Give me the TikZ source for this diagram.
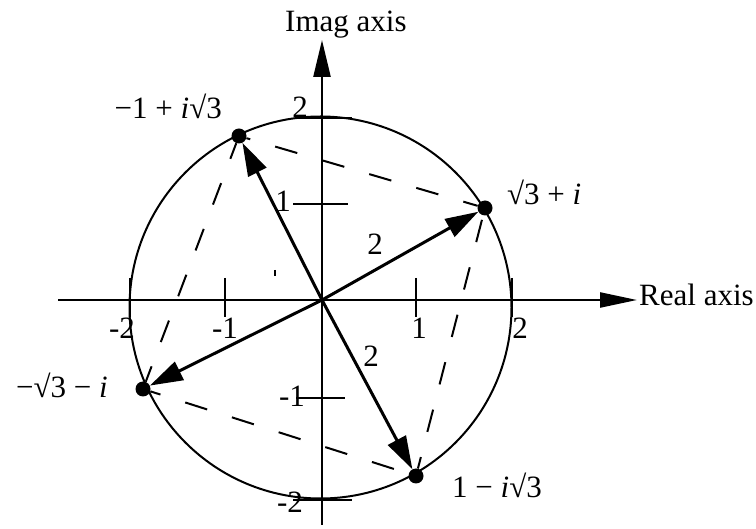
\documentclass[tikz,border=0pt]{standalone}
\usepackage{fontspec}
\setmainfont{Liberation Serif}
\usetikzlibrary{arrows.meta}
\begin{document}
\begin{tikzpicture}[x=1pt,y=-1pt,
  lbl/.style={font=\fontsize{31}{36}\selectfont, inner sep=0pt},
  axisline/.style={line width=2.4pt},
  vec/.style={line width=3pt,-{Triangle[length=33pt,width=20pt]}},
  dot/.style={circle,fill,inner sep=0pt,minimum size=15pt},
  dsh/.style={line width=2pt,dash pattern=on 23pt off 26pt},
  tickmark/.style={line width=2.4pt}]
\useasboundingbox (0,0) rectangle (756,529);
% circle
\draw[line width=2pt] (320.5,307.5) circle[radius=191pt];
% axes
\coordinate (xl) at (58,300);
\coordinate (xr) at (637,300);
\coordinate (yb) at (322,525);
\coordinate (yt) at (322,40);
\coordinate (o) at (322,300);
\draw[axisline,-{Triangle[length=37pt,width=15pt]}] (xl) -- (xr);
\draw[axisline,-{Triangle[length=37pt,width=17pt]}] (yb) -- (yt);
% real ticks
\foreach \x/\n in {130/m2,225/m1,416/p1,512/p2}{
  \coordinate (rt\n a) at (\x,278);
  \coordinate (rt\n b) at (\x,317);
  \draw[tickmark] (rt\n a) -- (rt\n b);
}
% imag ticks
\coordinate (it1a) at (293,204); \coordinate (it1b) at (348,204);
\coordinate (it2a) at (298,118); \coordinate (it2b) at (352,118);
\coordinate (itm1a) at (296,398); \coordinate (itm1b) at (345,398);
\coordinate (itm2a) at (293,500); \coordinate (itm2b) at (352,500);
\draw[tickmark] (it1a) -- (it1b);
\draw[tickmark] (it2a) -- (it2b);
\draw[tickmark] (itm1a) -- (itm1b);
\draw[tickmark] (itm2a) -- (itm2b);
% stray mark
\coordinate (sa) at (275,270); \coordinate (sb) at (275,276);
\draw[line width=2pt] (sa) -- (sb);
% points
\node[dot] (p1) at (485,208) {};
\node[dot] (p2) at (239,136) {};
\node[dot] (p3) at (143,389) {};
\node[dot] (p4) at (416,476) {};
% dashed square
\draw[dsh,dash phase=19pt] (p2) -- (p1);
\draw[dsh,dash phase=44.5pt] (p1) -- (p4);
\draw[dsh,dash phase=33.5pt] (p4) -- (p3);
\draw[dsh,dash phase=6.5pt] (p3) -- (p2);
% vectors
\draw[vec] (o) -- (p1);
\draw[vec] (o) -- (p2);
\draw[vec] (o) -- (p3);
\draw[vec] (o) -- (p4);
% labels
\node[lbl,anchor=base west] (imaglbl) at (285,32) {Imag axis};
\node[lbl,anchor=base west] (reallbl) at (639,306) {Real axis};
\node[lbl,anchor=base west] (l1) at (507,205) {\textbf{√}3 + \textit{i}};
\node[lbl,anchor=base east] (l2) at (222,119) {−1 + \textit{i}\textbf{√}3};
\node[lbl,anchor=base east] (l3) at (108,398) {−\textbf{√}3 − \textit{i}};
\node[lbl,anchor=base west] (l4) at (452,498) {1 − \textit{i}\textbf{√}3};
\node[lbl] (len1) at (375,244) {2};
\node[lbl] (len2) at (371,356) {2};
\node[lbl] (rm2) at (122,328) {-2};
\node[lbl] (rm1) at (225,328) {-1};
\node[lbl] (rp1) at (419,328) {1};
\node[lbl] (rp2) at (520,328) {2};
\node[lbl] (ip2) at (300,107) {2};
\node[lbl] (ip1) at (283,201) {1};
\node[lbl] (im1) at (292,396) {-1};
\node[lbl] (im2) at (290,502) {-2};
\end{tikzpicture}
\end{document}
